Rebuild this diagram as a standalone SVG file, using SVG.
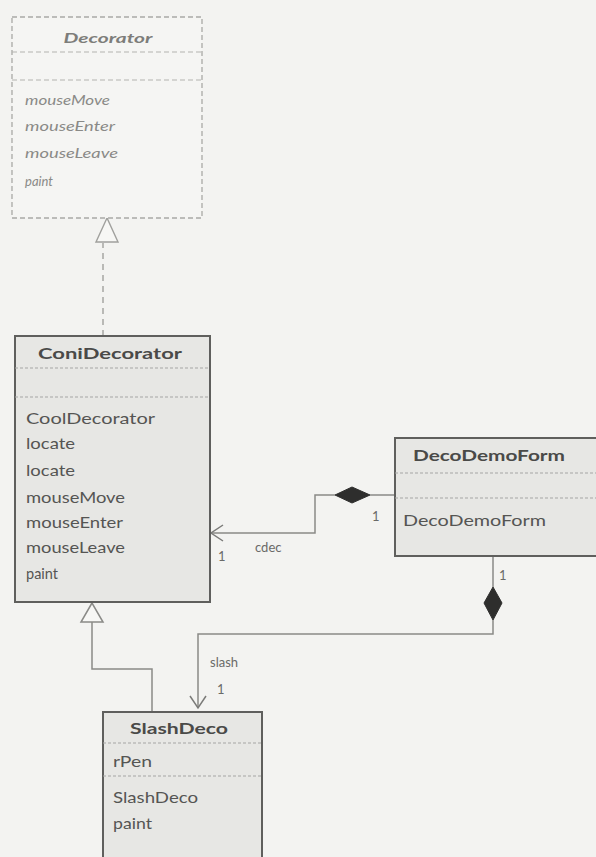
<svg xmlns="http://www.w3.org/2000/svg" width="596" height="857" viewBox="0 0 596 857">
  <style>
    .bg { fill: #f3f3f1; }
    .box { fill: #e7e7e4; stroke: #5f5f5d; stroke-width: 2; }
    .ibox { fill: #f5f5f3; stroke: #a9a9a6; stroke-width: 1.3; stroke-dasharray: 5 3; }
    .sep { stroke: #a6a6a3; stroke-width: 1.2; stroke-dasharray: 3 2; }
    .isep { stroke: #b3b3b0; stroke-width: 1.2; stroke-dasharray: 5 3; }
    .title { font-family: "Lato", "Open Sans", sans-serif; font-weight: bold; font-size: 16px; fill: #4a4a48; text-anchor: middle; }
    .ititle { font-family: "Lato", "Open Sans", sans-serif; font-weight: bold; font-style: italic; font-size: 14px; fill: #7d7d7a; text-anchor: middle; }
    .op { font-family: "Lato", "Open Sans", sans-serif; font-size: 15px; fill: #555553; }
    .iop { font-family: "Lato", "Open Sans", sans-serif; font-style: italic; font-size: 13px; fill: #8a8a87; }
    .lbl { font-family: "Lato", "Open Sans", sans-serif; font-size: 13px; fill: #6a6a68; }
    .line { fill: none; stroke: #8a8a87; stroke-width: 1.5; }
    .dash { fill: none; stroke: #a0a09d; stroke-width: 1.4; stroke-dasharray: 6 5; }
    .tri { fill: #f7f7f5; stroke: #8a8a87; stroke-width: 1.5; }
    .itri { fill: #f7f7f5; stroke: #a0a09d; stroke-width: 1.4; }
    .dia { fill: #2e2e2d; stroke: #2e2e2d; stroke-width: 1; }
    .head { fill: none; stroke: #7a7a78; stroke-width: 1.5; }
  </style>

  <rect class="bg" x="0" y="0" width="596" height="857"/>

  <!-- associations, generalizations and realization -->
  <g id="connectors">
    <!-- ConiDecorator realizes Decorator -->
    <path class="dash" d="M103 336 L103 243"/>
    <polygon class="itri" points="107,218 96,242 118,242"/>

    <!-- SlashDeco extends ConiDecorator -->
    <path class="line" d="M152 712 L152 669 L92 669 L92 622"/>
    <polygon class="tri" points="92,603 81,622 103,622"/>

    <!-- DecoDemoForm owns cdec -->
    <path class="line" d="M395 495 L370 495"/>
    <polygon class="dia" points="335,495 352,487 370,495 352,503"/>
    <path class="line" d="M335 495 L315 495 L315 533 L211 533"/>
    <path class="head" d="M223 525 L211 533 L223 541"/>
    <text class="lbl" x="372" y="521">1</text>
    <text class="lbl" x="255" y="552">cdec</text>
    <text class="lbl" x="218" y="561">1</text>

    <!-- DecoDemoForm owns slash -->
    <path class="line" d="M493 556 L493 587"/>
    <polygon class="dia" points="493,587 502,603 493,620 484,603"/>
    <path class="line" d="M493 620 L493 634 L198 634 L198 708"/>
    <path class="head" d="M190 696 L198 708 L206 696"/>
    <text class="lbl" x="499" y="580">1</text>
    <text class="lbl" x="210" y="667">slash</text>
    <text class="lbl" x="217" y="694">1</text>
  </g>

  <!-- Decorator: abstract class -->
  <g id="decorator">
    <rect class="ibox" x="12" y="17" width="190" height="201"/>
    <text class="ititle" x="108" y="43" textLength="89" lengthAdjust="spacingAndGlyphs">Decorator</text>
    <line class="isep" x1="12" y1="52" x2="202" y2="52"/>
    <line class="isep" x1="12" y1="80" x2="202" y2="80"/>
    <text class="iop" x="25" y="105" textLength="85" lengthAdjust="spacingAndGlyphs">mouseMove</text>
    <text class="iop" x="25" y="131" textLength="90" lengthAdjust="spacingAndGlyphs">mouseEnter</text>
    <text class="iop" x="25" y="158" textLength="93" lengthAdjust="spacingAndGlyphs">mouseLeave</text>
    <text class="iop" x="25" y="186" textLength="28" lengthAdjust="spacingAndGlyphs">paint</text>
  </g>

  <!-- ConiDecorator -->
  <g id="coni-decorator">
    <rect class="box" x="15" y="336" width="195" height="266"/>
    <text class="title" x="110" y="359" textLength="144" lengthAdjust="spacingAndGlyphs">ConiDecorator</text>
    <line class="sep" x1="15" y1="368" x2="210" y2="368"/>
    <line class="sep" x1="15" y1="397" x2="210" y2="397"/>
    <text class="op" x="26" y="424" textLength="129" lengthAdjust="spacingAndGlyphs">CoolDecorator</text>
    <text class="op" x="26" y="449" textLength="49" lengthAdjust="spacingAndGlyphs">locate</text>
    <text class="op" x="26" y="476" textLength="49" lengthAdjust="spacingAndGlyphs">locate</text>
    <text class="op" x="26" y="503" textLength="99" lengthAdjust="spacingAndGlyphs">mouseMove</text>
    <text class="op" x="26" y="528" textLength="97" lengthAdjust="spacingAndGlyphs">mouseEnter</text>
    <text class="op" x="26" y="553" textLength="99" lengthAdjust="spacingAndGlyphs">mouseLeave</text>
    <text class="op" x="26" y="579" textLength="32" lengthAdjust="spacingAndGlyphs">paint</text>
  </g>

  <!-- DecoDemoForm -->
  <g id="deco-demo-form">
    <rect class="box" x="395" y="438" width="205" height="118"/>
    <text class="title" x="489" y="461" textLength="152" lengthAdjust="spacingAndGlyphs">DecoDemoForm</text>
    <line class="sep" x1="395" y1="473" x2="596" y2="473"/>
    <line class="sep" x1="395" y1="498" x2="596" y2="498"/>
    <text class="op" x="403" y="526" textLength="143" lengthAdjust="spacingAndGlyphs">DecoDemoForm</text>
  </g>

  <!-- SlashDeco -->
  <g id="slash-deco">
    <rect class="box" x="103" y="712" width="159" height="160"/>
    <text class="title" x="179" y="734" textLength="98" lengthAdjust="spacingAndGlyphs">SlashDeco</text>
    <line class="sep" x1="103" y1="743" x2="262" y2="743"/>
    <text class="op" x="113" y="767" textLength="39" lengthAdjust="spacingAndGlyphs">rPen</text>
    <line class="sep" x1="103" y1="776" x2="262" y2="776"/>
    <text class="op" x="113" y="803" textLength="85" lengthAdjust="spacingAndGlyphs">SlashDeco</text>
    <text class="op" x="113" y="829" textLength="39" lengthAdjust="spacingAndGlyphs">paint</text>
  </g>
</svg>
